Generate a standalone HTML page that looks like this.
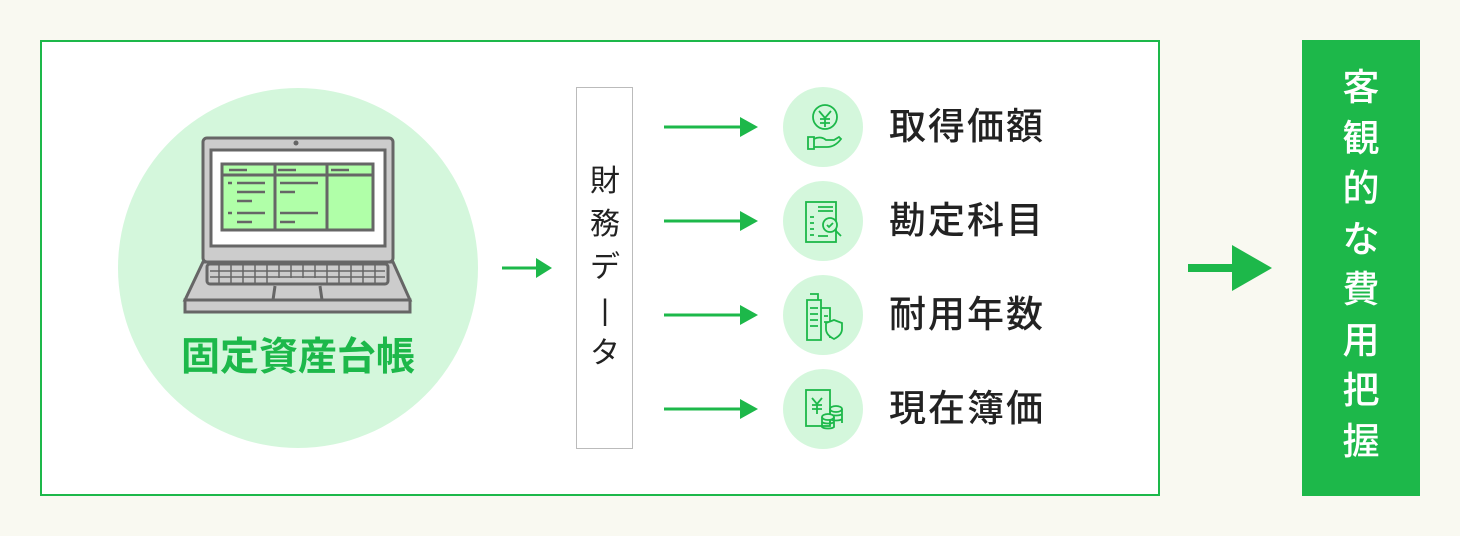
<!DOCTYPE html>
<html><head><meta charset="utf-8"><style>
body{margin:0;width:1460px;height:536px;background:#f9f9f1;font-family:"Liberation Sans","Noto Sans CJK JP",sans-serif;position:relative;overflow:hidden}
.a{position:absolute}
.lbl{position:absolute;left:889px;font-size:37px;color:#222;line-height:40px;font-weight:500;letter-spacing:2px}
.ic{position:absolute;left:783px;width:80px;height:80px;border-radius:50%;background:#d4f7dc}
</style></head><body>
<div class="a" style="left:40px;top:40px;width:1116px;height:452px;border:2px solid #1db84a;background:#fff"></div>
<div class="a" style="left:118px;top:88px;width:360px;height:360px;border-radius:50%;background:#d4f7dc"></div>
<svg class="a" style="left:0;top:0" width="1460" height="536">
<g stroke="#666" stroke-width="3" fill="#ccc">
<rect x="203" y="138" width="190" height="124" rx="4"/>
<rect x="211" y="150" width="174" height="96" fill="#fff"/>
<rect x="222" y="164" width="151" height="66" fill="#b0ffa8"/>
<line x1="222" y1="175" x2="373" y2="175"/><line x1="275" y1="164" x2="275" y2="230"/><line x1="327" y1="164" x2="327" y2="230"/>
<polygon points="203,262 393,262 410,300 185,300"/>
<rect x="185" y="300" width="225" height="12"/>
<rect x="207" y="264" width="181" height="20" rx="3" fill="#ccc"/>
<line x1="210" y1="271" x2="385" y2="271" stroke-width="1.5"/><line x1="210" y1="277" x2="385" y2="277" stroke-width="1.5"/>
<path d="M275 286l-2 14M320 286l2 14" fill="none"/>
</g>
<g stroke="#666" stroke-width="1.5">
<path d="M219 264v20M231 264v20M243 264v20M255 264v20M267 264v20M279 264v14M291 264v14M303 264v14M315 264v14M327 264v20M339 264v20M351 264v20M363 264v20M375 264v20"/>
</g>
<g stroke="#666" stroke-width="2.5">
<line x1="229" y1="170" x2="247" y2="170"/><line x1="278" y1="170" x2="296" y2="170"/><line x1="331" y1="170" x2="349" y2="170"/>
<line x1="237" y1="183" x2="265" y2="183"/><line x1="237" y1="192" x2="265" y2="192"/><line x1="237" y1="201" x2="252" y2="201"/>
<line x1="237" y1="213" x2="265" y2="213"/><line x1="237" y1="222" x2="252" y2="222"/>
<line x1="280" y1="183" x2="318" y2="183"/><line x1="280" y1="192" x2="295" y2="192"/><line x1="280" y1="213" x2="318" y2="213"/><line x1="280" y1="222" x2="295" y2="222"/>
<line x1="228" y1="183" x2="232" y2="183"/><line x1="228" y1="213" x2="232" y2="213"/>
</g>
<circle cx="296" cy="143" r="2.5" fill="#666"/>
<g fill="#1db84a" stroke="#1db84a" stroke-width="3">
<line x1="502" y1="268" x2="538" y2="268"/><polygon points="536,258 552,268 536,278" stroke="none"/>
<line x1="664" y1="127" x2="742" y2="127"/><polygon points="740,117 758,127 740,137" stroke="none"/>
<line x1="664" y1="221" x2="742" y2="221"/><polygon points="740,211 758,221 740,231" stroke="none"/>
<line x1="664" y1="315" x2="742" y2="315"/><polygon points="740,305 758,315 740,325" stroke="none"/>
<line x1="664" y1="409" x2="742" y2="409"/><polygon points="740,399 758,409 740,419" stroke="none"/>
<line x1="1188" y1="268" x2="1235" y2="268" stroke-width="8"/><polygon points="1232,245 1272,268 1232,291" stroke="none"/>
</g>
</svg>
<div class="a" style="left:100px;top:335px;width:396px;text-align:center;font-size:39px;color:#1db84a;font-weight:bold;line-height:46px">固定資産台帳</div>
<div class="a" style="left:576px;top:87px;width:55px;height:360px;border:1.5px solid #bbb;background:#fff"></div>
<div class="a" style="left:576px;top:160px;width:58px;text-align:center;font-size:30px;line-height:43px;color:#222">財<br>務<br>デ<br>|<br>タ</div>
<div class="ic" style="top:87px"></div><div class="ic" style="top:181px"></div><div class="ic" style="top:275px"></div><div class="ic" style="top:369px"></div>
<svg class="a" style="left:0;top:0" width="1460" height="536" fill="none" stroke="#1db84a" stroke-width="1.8">
<circle cx="825" cy="117" r="12"/><path d="M819 111l6 7 6-7M825 118v9M820 119h10M820 123h10"/>
<path d="M808 137h6v12h-6zM814 139c5-3 10-1 12 1h8l5-3 2 2c-3 4-8 8-14 8h-13"/>
<rect x="806" y="202" width="30" height="40"/><path d="M818 207h15M818 211h15M810 217h4M810 223h4M810 229h4M810 235h4M818 236h10"/><circle cx="830" cy="225" r="7" fill="#d4f7dc"/><path d="M835 230l6 6M827 225l2 2 4-4"/>
<path d="M807 300h14v40h-14zM810 294h8v6M821 308h9v30M810 308h8M810 314h8M810 320h8M810 326h8M824 316h4M824 322h4"/><path d="M834 320l8 3v6c0 5-4 8-8 10-4-2-8-5-8-10v-6z" fill="#d4f7dc"/>
<rect x="806" y="390" width="24" height="36"/><path d="M812 398l5 6 5-6M817 404v10M812 405h10M812 409h10"/><ellipse cx="836" cy="409" rx="6" ry="3"/><path d="M830 409v14M842 409v14M830 414c2 2 10 2 12 0M830 419c2 2 10 2 12 0"/><ellipse cx="828" cy="417" rx="6" ry="3" fill="#d4f7dc"/><path d="M822 417v10c2 2 10 2 12 0v-10M822 422c2 2 10 2 12 0"/>
</svg>
<div class="lbl" style="top:107px">取得価額</div>
<div class="lbl" style="top:201px">勘定科目</div>
<div class="lbl" style="top:295px">耐用年数</div>
<div class="lbl" style="top:389px">現在簿価</div>
<div class="a" style="left:1302px;top:40px;width:118px;height:456px;background:#1db84a"></div>
<div class="a" style="left:1302px;top:63px;width:118px;text-align:center;font-size:37px;line-height:50.5px;color:#fff;font-weight:500">客<br>観<br>的<br>な<br>費<br>用<br>把<br>握</div>
</body></html>
